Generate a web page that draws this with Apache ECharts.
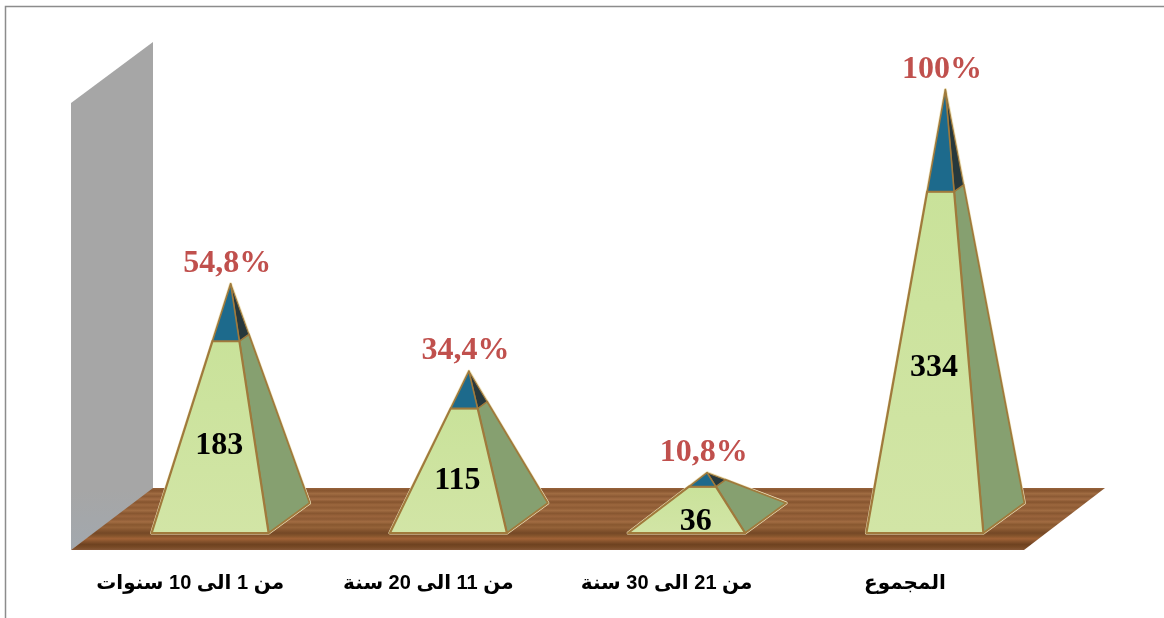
<!DOCTYPE html>
<html>
<head>
<meta charset="utf-8">
<style>html,body{margin:0;padding:0;background:#fff}#c{width:1164px;height:618px}</style>
<script src="https://cdn.jsdelivr.net/npm/echarts@6/dist/echarts.min.js"></script>
</head>
<body>
<div id="c"></div>
<script>
const categories = ["من 1 الى 10 سنوات", "من 11 الى 20 سنة", "من 21 الى 30 سنة", "المجموع"];
const totals = [183, 115, 36, 334];
const percentLabels = ["54,8%", "34,4%", "10,8%", "100%"];
const capShare = 0.23;

const chart = echarts.init(document.getElementById('c'), null, {renderer: 'canvas'});

const woodStops = [];
const woodColors = ['#96623a','#87552f','#a06c42','#8c5a34','#a26c44','#85542e','#9c673e','#8e5b34','#a06c42','#875630','#9a643c','#8c5a34','#a26c42','#885830','#946238','#84542e','#744826','#86552c','#a06236','#85522c','#6e4220','#784a26','#865838'];
woodColors.forEach((c, i) => woodStops.push({offset: i / (woodColors.length - 1), color: c}));

function lerp(a, b, t) { return [a[0] + (b[0] - a[0]) * t, a[1] + (b[1] - a[1]) * t]; }

function renderPyramid(params, api) {
  const i = api.value(0), v = api.value(1);
  const base = api.coord([i, 0]);
  const top = api.coord([i, v]);
  const hw = 58.5;
  const fl = [base[0] + 20 - hw, base[1] - 17];
  const fr = [base[0] + 20 + hw, base[1] - 17];
  const br = [base[0] + 61 + hw, base[1] - 47];
  const apex = [top[0] + 40.5, top[1] - 31];
  const t = 1 - capShare;
  const cl = lerp(fl, apex, t), cr = lerp(fr, apex, t), cb = lerp(br, apex, t);
  const edge = '#a07a3c';
  const h = base[1] - top[1];
  const poly = (pts, fill, stroke, w) => ({
    type: 'polygon', shape: {points: pts},
    style: {fill: fill, stroke: stroke, lineWidth: w, lineJoin: 'round'}
  });
  const outline = [fl, fr, br, apex];
  return {
    type: 'group',
    children: [
      poly(outline, '#eee2b8', '#f0e6c0', 3),
      poly([fr, br, cb, cr], '#86a070', edge, 1.8),
      poly([cr, cb, apex], '#27383c', edge, 1.2),
      poly([fl, fr, cr, cl], new echarts.graphic.LinearGradient(0, 0, 0, 1, [
        {offset: 0, color: '#c9e29a'}, {offset: 1, color: '#d2e5a6'}]), edge, 2.2),
      poly([cl, cr, apex], '#1d6a8c', edge, 1.6),
      {
        type: 'text',
        style: {
          x: base[0] + 29, y: base[1] - 10 - 0.4 * h,
          text: String(v), fill: '#000',
          font: 'bold 32px "Liberation Serif"',
          align: 'center', verticalAlign: 'middle'
        }
      },
      {
        type: 'text',
        style: {
          x: apex[0] - 3.5, y: apex[1] - 20,
          text: percentLabels[i], fill: '#c0504d',
          font: 'bold 32px "Liberation Serif"',
          align: 'center', verticalAlign: 'middle'
        }
      }
    ]
  };
}

chart.setOption({
  animation: false,
  backgroundColor: '#fff',
  tooltip: {show: false},
  grid: {left: 71, right: 140, top: 100, bottom: 68, containLabel: false},
  xAxis: {
    type: 'category', data: categories,
    axisLine: {show: false}, axisTick: {show: false}, splitLine: {show: false},
    axisLabel: {
      interval: 0, margin: 23, color: '#000', fontWeight: 'bold', fontSize: 20,
      fontFamily: '"Liberation Sans","DejaVu Sans","Noto Sans"'
    }
  },
  yAxis: {type: 'value', min: 0, max: 350, show: false, splitLine: {show: false}},
  graphic: {elements: [
    {type: 'polyline', z: 0, silent: true, shape: {points: [[5.5, 618], [5.5, 6.5], [1164, 6.5]]},
      style: {fill: null, stroke: '#8c8c8c', lineWidth: 1.5}},
    {type: 'polygon', z: 0, silent: true, shape: {points: [[71, 103], [153, 42], [153, 490], [71, 550]]},
      style: {fill: new echarts.graphic.LinearGradient(0, 0, 0, 1, [
        {offset: 0, color: '#a6a6a6'}, {offset: 0.88, color: '#a6a6a6'}, {offset: 1, color: '#a2a8ae'}])}},
    {type: 'polygon', z: 0, silent: true, shape: {points: [[71, 550], [153, 488], [1105, 488], [1024, 550]]},
      style: {fill: new echarts.graphic.LinearGradient(0, 0, 0, 1, woodStops)}}
  ]},
  series: [{
    type: 'custom', z: 5, silent: true, clip: false,
    coordinateSystem: 'cartesian2d',
    encode: {x: 0, y: 1},
    data: totals.map((v, i) => [i, v]),
    renderItem: renderPyramid
  }]
});
</script>
</body>
</html>
